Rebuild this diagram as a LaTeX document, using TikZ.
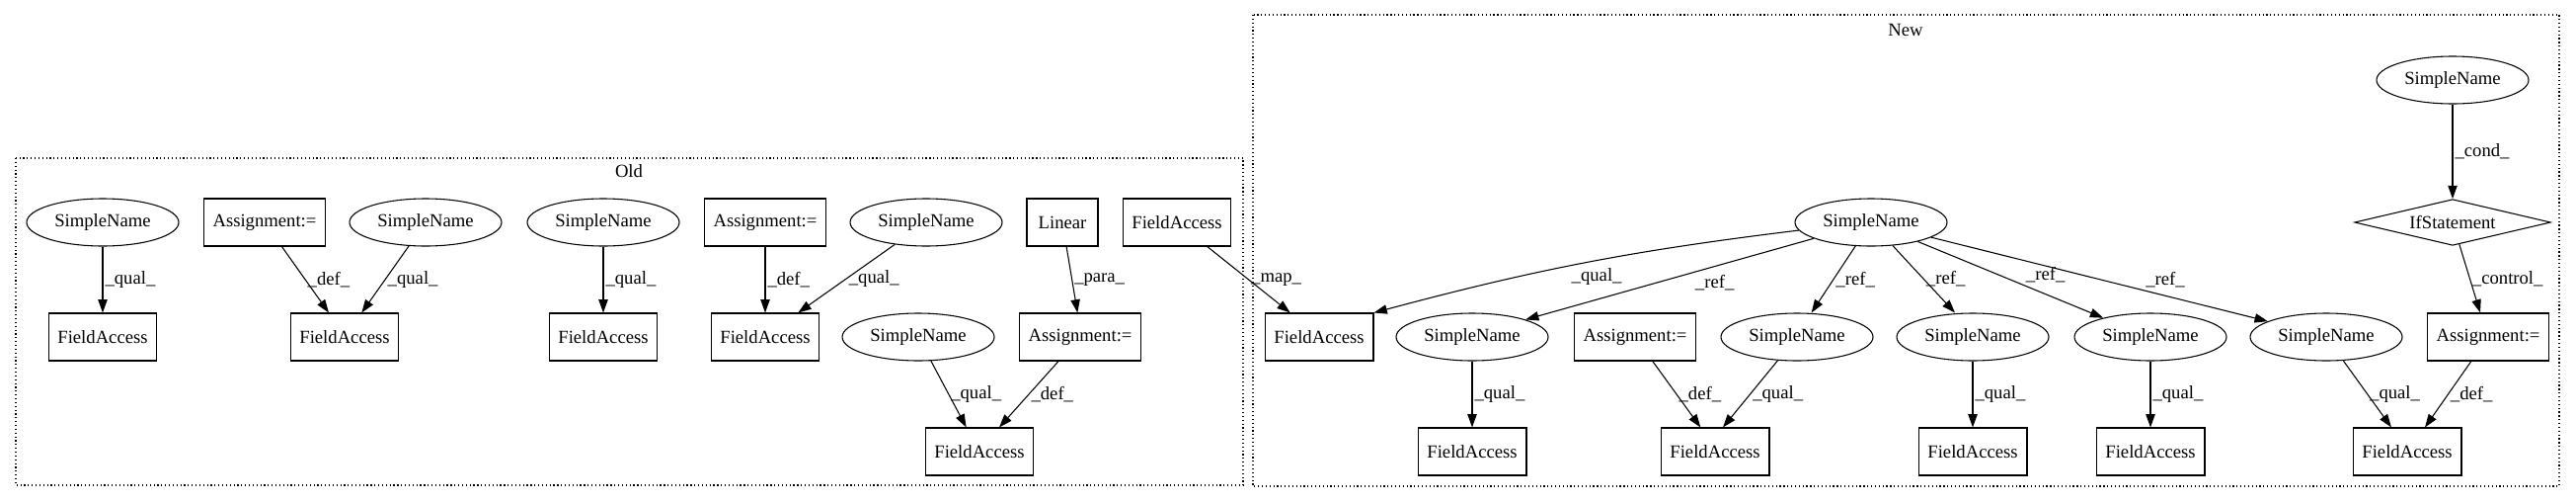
\documentclass[tikz,border=0pt]{standalone}
\usepackage{fontspec}
\setmainfont{Liberation Serif}
\usetikzlibrary{shapes.geometric,arrows.meta}

\begin{document}
\begin{tikzpicture}[x=0.75bp,y=-0.75bp,
		font=\fontsize{14bp}{16bp}\selectfont,
		sname/.style={draw,ellipse,minimum width=115.5bp,minimum height=36bp,inner sep=0pt,line width=0.8bp},
		fbox/.style={draw,rectangle,minimum width=54bp,minimum height=36bp,inner xsep=7bp,line width=0.8bp},
		ifbox/.style={draw,diamond,aspect=4.3,minimum width=149bp,minimum height=35bp,inner sep=0pt,line width=0.8bp},
		edge/.style={-{Triangle[length=10bp,width=7bp]},line width=0.8bp},
		lbl/.style={anchor=west,inner sep=1.5bp},
		cluster/.style={dotted,line width=0.9bp}]
		\useasboundingbox (0,0) rectangle (2609,508);
		
		%Old
		\draw[cluster] (16,160) rectangle (1259,491);
		\node (oldlbl) at (637,173) {Old};
		
		\node[sname] (S1) at (104,225) {SimpleName};
		\node[fbox] (F1) at (104,341) {FieldAccess};
		\node[fbox] (A1) at (268,225) {Assignment:=};
		\node[sname] (S2) at (431,225) {SimpleName};
		\node[fbox] (F2) at (349,341) {FieldAccess};
		\node[sname] (S3) at (611,225) {SimpleName};
		\node[fbox] (F3) at (611,341) {FieldAccess};
		\node[fbox] (A2) at (775,225) {Assignment:=};
		\node[sname] (S4) at (938,225) {SimpleName};
		\node[fbox] (F4) at (775,341) {FieldAccess};
		\node[fbox] (L1) at (1076,225) {Linear};
		\node[fbox] (F6) at (1192,225) {FieldAccess};
		\node[sname] (S5) at (930,341) {SimpleName};
		\node[fbox] (A3) at (1094,341) {Assignment:=};
		\node[fbox] (F5) at (992,457) {FieldAccess};
		
		\draw[edge] (S1) -- (F1) node[lbl,midway] {\_qual\_};
		\draw[edge] (A1) -- ([xshift=-12bp]F2.north) node[lbl,midway] {\_def\_};
		\draw[edge] (S2) -- ([xshift=13bp]F2.north) node[lbl,midway] {\_qual\_};
		\draw[edge] (S3) -- (F3) node[lbl,midway] {\_qual\_};
		\draw[edge] (A2) -- (F4) node[lbl,midway] {\_def\_};
		\draw[edge] (S4) -- ([xshift=25bp]F4.north) node[lbl,midway] {\_qual\_};
		\draw[edge] (L1) -- ([xshift=-2bp]A3.north) node[lbl,midway] {\_para\_};
		\draw[edge] (S5) -- ([xshift=-10bp]F5.north) node[lbl,midway] {\_qual\_};
		\draw[edge] (A3) -- ([xshift=15bp]F5.north) node[lbl,midway] {\_def\_};
		
		%New
		\draw[cluster] (1269,15) rectangle (2592,492);
		\node (newlbl) at (1930,30) {New};
		
		\node[sname] (H) at (1895,225) {SimpleName};
		\node[sname] (C) at (2484,81) {SimpleName};
		\node[ifbox] (I) at (2484,225) {IfStatement};
		\node[fbox] (NF1) at (1336,341) {FieldAccess};
		\node[sname] (NS2) at (1491,341) {SimpleName};
		\node[fbox] (NA1) at (1656,341) {Assignment:=};
		\node[sname] (NS3) at (1820,341) {SimpleName};
		\node[sname] (NS4) at (1998,341) {SimpleName};
		\node[sname] (NS5) at (2178,341) {SimpleName};
		\node[sname] (NS6) at (2356,341) {SimpleName};
		\node[fbox] (NA2) at (2520,341) {Assignment:=};
		\node[fbox] (NF2) at (1491,457) {FieldAccess};
		\node[fbox] (NF3) at (1737,457) {FieldAccess};
		\node[fbox] (NF4) at (1998,457) {FieldAccess};
		\node[fbox] (NF5) at (2178,457) {FieldAccess};
		\node[fbox] (NF6) at (2438,457) {FieldAccess};
		
		\draw[edge] (F6) -- ([xshift=-22bp]NF1.north) node[lbl,midway] {\_map\_};
		\draw[edge] (H) to[bend right=4] node[lbl,pos=0.54,anchor=north west] {\_qual\_} (NF1.north east);
		\draw[edge] (H) -- (NS2.18) node[lbl,pos=0.42,anchor=north west] {\_ref\_};
		\draw[edge] (H) -- ([xshift=11bp]NS3.north) node[lbl,midway] {\_ref\_};
		\draw[edge] (H) -- ([xshift=-13.5bp]NS4.north) node[lbl,midway] {\_ref\_};
		\draw[edge] (H) -- (NS5.158) node[lbl,pos=0.57,anchor=south west] {\_ref\_};
		\draw[edge] (H) -- (NS6.165) node[lbl,pos=0.63,anchor=south west] {\_ref\_};
		
		\draw[edge] (NS2) -- (NF2) node[lbl,midway] {\_qual\_};
		\draw[edge] (NA1) -- ([xshift=-11bp]NF3.north) node[lbl,midway] {\_def\_};
		\draw[edge] (NS3) -- ([xshift=6bp]NF3.north) node[lbl,midway] {\_qual\_};
		\draw[edge] (NS4) -- (NF4) node[lbl,midway] {\_qual\_};
		\draw[edge] (NS5) -- (NF5) node[lbl,midway] {\_qual\_};
		\draw[edge] (NS6) -- ([xshift=-12bp]NF6.north) node[lbl,midway] {\_qual\_};
		\draw[edge] (NA2) -- ([xshift=13.5bp]NF6.north) node[lbl,midway] {\_def\_};
		\draw[edge] (C) -- (I) node[lbl,midway] {\_cond\_};
		\draw[edge] (I) -- ([xshift=-6bp]NA2.north) node[lbl,midway] {\_control\_};
		
\end{tikzpicture}
\end{document}
